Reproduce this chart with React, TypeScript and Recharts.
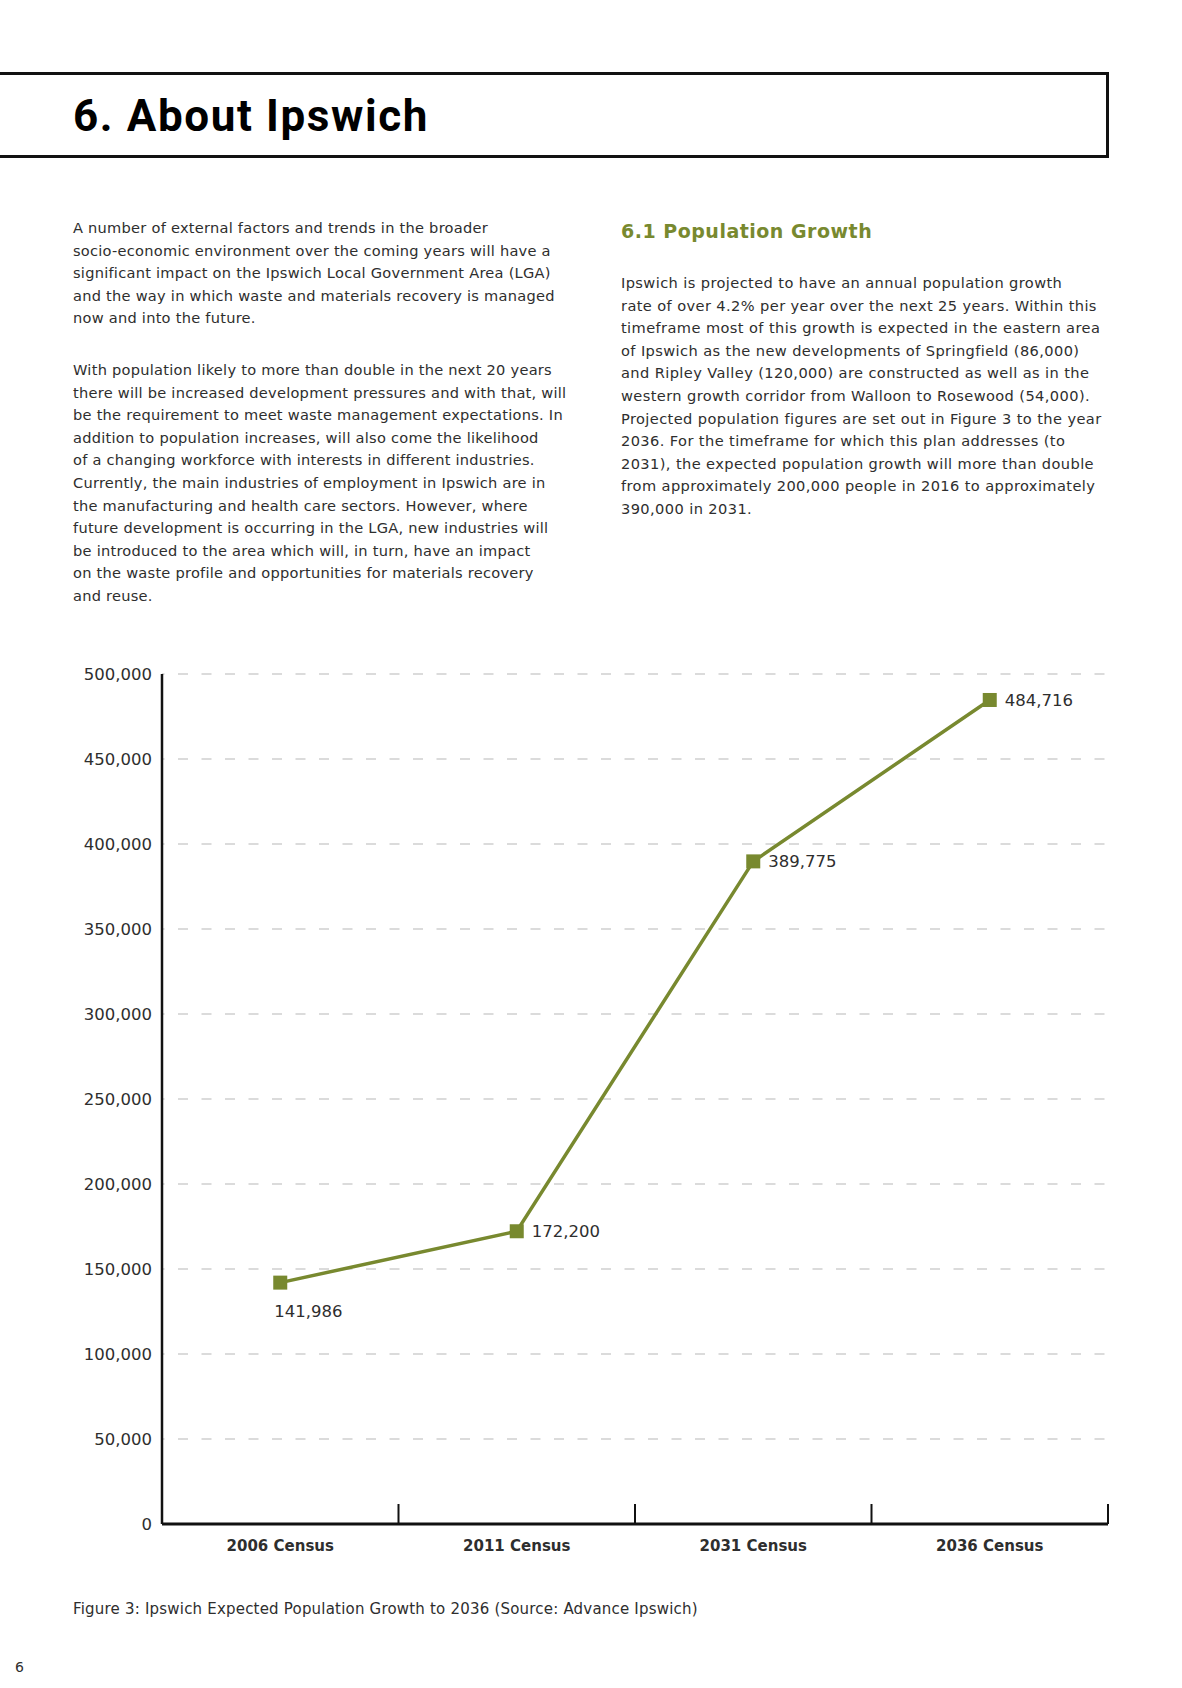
import React from "react";
import {
  LineChart,
  Line,
  XAxis,
  YAxis,
  CartesianGrid,
  LabelList,
} from "recharts";

// Figure 3 values (Advance Ipswich)
const categories = ["2006 Census", "2011 Census", "2031 Census", "2036 Census"];
const population = [141986, 172200, 389775, 484716];
const yTicks = [0, 50000, 100000, 150000, 200000, 250000, 300000, 350000, 400000, 450000, 500000];
// band edges (tick marks) and band centres (labels) on a 0..4 numeric x scale
const xTicks = [0, 0.5, 1, 1.5, 2, 2.5, 3, 3.5, 4];

const data = categories.map((c, i) => ({ category: c, pos: i + 0.5, pop: population[i] }));

const OLIVE = "#78892f";
const TEXT = "#2e2e2e";
const FONT = "'DejaVu Sans', sans-serif";

const leftPara1 = [
  "A number of external factors and trends in the broader",
  "socio-economic environment over the coming years will have a",
  "significant impact on the Ipswich Local Government Area (LGA)",
  "and the way in which waste and materials recovery is managed",
  "now and into the future.",
];

const leftPara2 = [
  "With population likely to more than double in the next 20 years",
  "there will be increased development pressures and with that, will",
  "be the requirement to meet waste management expectations. In",
  "addition to population increases, will also come the likelihood",
  "of a changing workforce with interests in different industries.",
  "Currently, the main industries of employment in Ipswich are in",
  "the manufacturing and health care sectors. However, where",
  "future development is occurring in the LGA, new industries will",
  "be introduced to the area which will, in turn, have an impact",
  "on the waste profile and opportunities for materials recovery",
  "and reuse.",
];

const rightPara = [
  "Ipswich is projected to have an annual population growth",
  "rate of over 4.2% per year over the next 25 years. Within this",
  "timeframe most of this growth is expected in the eastern area",
  "of Ipswich as the new developments of Springfield (86,000)",
  "and Ripley Valley (120,000) are constructed as well as in the",
  "western growth corridor from Walloon to Rosewood (54,000).",
  "Projected population figures are set out in Figure 3 to the year",
  "2036. For the timeframe for which this plan addresses (to",
  "2031), the expected population growth will more than double",
  "from approximately 200,000 people in 2016 to approximately",
  "390,000 in 2031.",
];

const Para = ({
  lines,
  top,
  left,
  spacing,
}: {
  lines: string[];
  top: number;
  left: number;
  spacing: number;
}) => (
  <div
    style={{
      position: "absolute",
      top,
      left,
      fontFamily: FONT,
      fontSize: 14.6,
      letterSpacing: spacing,
      lineHeight: "22.6px",
      color: TEXT,
      whiteSpace: "nowrap",
    }}
  >
    {lines.map((l, i) => (
      <div key={i}>{l}</div>
    ))}
  </div>
);

const XTick = (props: any) => {
  const { x, y, payload } = props;
  const v = payload.value as number;
  if (Number.isInteger(v)) {
    return <line x1={x} x2={x} y1={y} y2={y - 20} stroke="#111" strokeWidth={2} />;
  }
  return (
    <text
      x={x}
      y={y + 27}
      textAnchor="middle"
      fontFamily={FONT}
      fontSize={15}
      fontWeight="bold"
      fill={TEXT}
    >
      {categories[Math.floor(v)]}
    </text>
  );
};

const SquareDot = (props: any) => {
  const { cx, cy, index } = props;
  return <rect key={`dot-${index}`} x={cx - 7} y={cy - 7} width={14} height={14} fill={OLIVE} />;
};

const PointLabel = (props: any) => {
  const { x, y, value, index } = props;
  const txt = Number(value).toLocaleString("en-US");
  const below = index === 0;
  return (
    <text
      x={below ? x - 6 : x + 15}
      y={below ? y + 34 : y + 6}
      fontFamily={FONT}
      fontSize={16.5}
      fill={TEXT}
    >
      {txt}
    </text>
  );
};

export default function App() {
  return (
    <div
      style={{
        position: "absolute",
        left: 0,
        top: 0,
        width: 1182,
        height: 1688,
        background: "#fff",
        overflow: "hidden",
      }}
    >
      {/* header box */}
      <div
        style={{
          position: "absolute",
          left: -10,
          top: 72,
          width: 1113,
          height: 80,
          border: "3.5px solid #111",
        }}
      />
      <div
        style={{
          position: "absolute",
          left: 73,
          top: 94,
          fontFamily: "'Liberation Sans Narrow', 'Roboto', sans-serif",
          fontWeight: "bold",
          fontSize: 44,
          letterSpacing: 1.6,
          lineHeight: 1,
          color: "#000",
          whiteSpace: "nowrap",
        }}
      >
        6. About Ipswich
      </div>

      <Para lines={leftPara1} top={217} left={73} spacing={0.25} />
      <Para lines={leftPara2} top={359} left={73} spacing={0.25} />

      <div
        style={{
          position: "absolute",
          left: 621,
          top: 219,
          fontFamily: FONT,
          fontWeight: "bold",
          fontSize: 19,
          letterSpacing: 0.5,
          lineHeight: "24px",
          color: OLIVE,
          whiteSpace: "nowrap",
        }}
      >
        6.1 Population Growth
      </div>
      <Para lines={rightPara} top={272} left={621} spacing={0.4} />

      <div style={{ position: "absolute", left: 0, top: 640 }}>
        <LineChart
          width={1182}
          height={940}
          data={data}
          margin={{ top: 34, right: 74, left: 62, bottom: 16 }}
        >
          <CartesianGrid
            vertical={false}
            stroke="#cfcfcf"
            strokeWidth={1.5}
            strokeDasharray="10 13.5"
            strokeDashoffset={7.5}
          />
          <XAxis
            dataKey="pos"
            type="number"
            domain={[0, 4]}
            ticks={xTicks}
            interval={0}
            tick={<XTick />}
            tickLine={false}
            tickSize={0}
            tickMargin={0}
            height={40}
            axisLine={{ stroke: "#111", strokeWidth: 3 }}
          />
          <YAxis
            type="number"
            domain={[0, 500000]}
            ticks={yTicks}
            interval={0}
            width={100}
            tickLine={false}
            tickMargin={4}
            tickFormatter={(v: number) => v.toLocaleString("en-US")}
            tick={{ fontFamily: FONT, fontSize: 16.5, fill: TEXT }}
            axisLine={{ stroke: "#111", strokeWidth: 2.5 }}
          />
          <Line
            type="linear"
            dataKey="pop"
            stroke={OLIVE}
            strokeWidth={3.5}
            dot={<SquareDot />}
            activeDot={false}
            isAnimationActive={false}
          >
            <LabelList dataKey="pop" content={<PointLabel />} />
          </Line>
        </LineChart>
      </div>

      <div
        style={{
          position: "absolute",
          left: 73,
          top: 1598,
          fontFamily: FONT,
          fontSize: 15,
          letterSpacing: 0.2,
          lineHeight: "22px",
          color: TEXT,
          whiteSpace: "nowrap",
        }}
      >
        Figure 3: Ipswich Expected Population Growth to 2036 (Source: Advance Ipswich)
      </div>
      <div
        style={{
          position: "absolute",
          left: 15,
          top: 1657,
          fontFamily: FONT,
          fontSize: 14,
          lineHeight: "20px",
          color: TEXT,
        }}
      >
        6
      </div>
    </div>
  );
}
